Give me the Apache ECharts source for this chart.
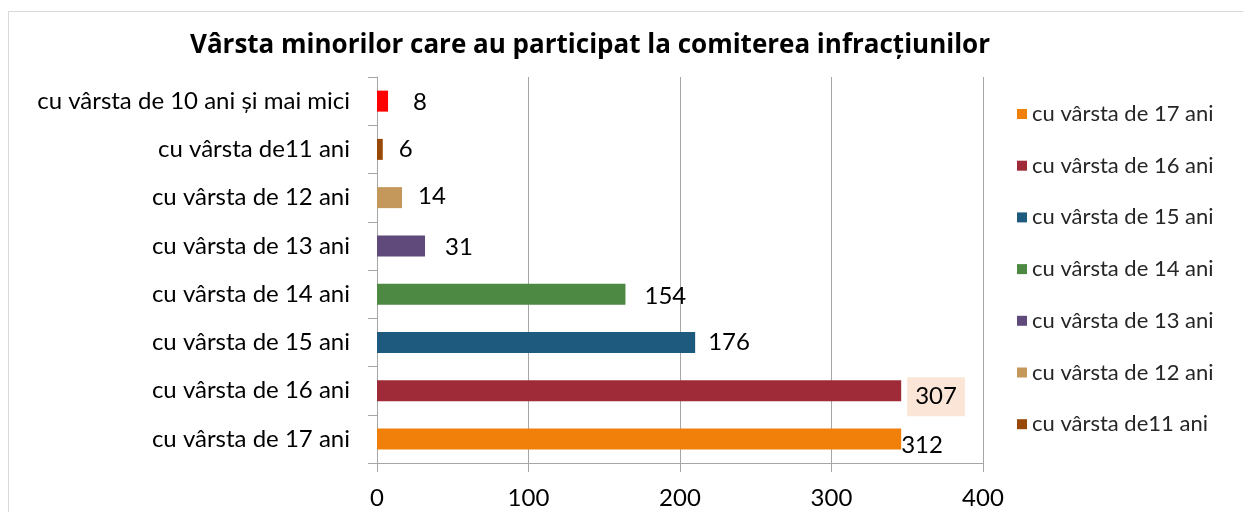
<!DOCTYPE html>
<html>
<head>
<meta charset="utf-8">
<title>Vârsta minorilor</title>
<script src="https://cdn.jsdelivr.net/npm/echarts@6/dist/echarts.min.js"></script>
<style>
  html, body { margin: 0; padding: 0; background: #fff; }
  #chart { width: 1243px; height: 512px; }
</style>
</head>
<body>
<div id="chart"></div>
<script>
// categories, top to bottom
var categories = ['cu vârsta de 10 ani și mai mici', 'cu vârsta de11 ani', 'cu vârsta de 12 ani',
    'cu vârsta de 13 ani', 'cu vârsta de 14 ani', 'cu vârsta de 15 ani',
    'cu vârsta de 16 ani', 'cu vârsta de 17 ani'];
// bar lengths as drawn against the axis
var barValues = [7.3, 3.8, 16.5, 31.7, 164, 210, 346, 346];
// numbers printed next to the bars
var labelValues = [8, 6, 14, 31, 154, 176, 307, 312];
var colors = ['#FF0000', '#984807', '#C4975B', '#604A7B', '#4E8943', '#1E5A7D', '#A02B38', '#F0800A'];
// legend lists only these (the last entry is cut off in the original)
var legendNames = ['cu vârsta de 17 ani', 'cu vârsta de 16 ani', 'cu vârsta de 15 ani',
    'cu vârsta de 14 ani', 'cu vârsta de 13 ani', 'cu vârsta de 12 ani', 'cu vârsta de11 ani'];
var xTicks = { min: 0, max: 400, interval: 100 };

var font = 'Lato, "Open Sans", sans-serif';
var dom = document.getElementById('chart');
var myChart = echarts.init(dom);

// label placement tweaks per bar
var labelDist = [25, 16, 16, 20, 19, 13, 15, 0];
var labelDy = [1, 0, -1, 1, 2, 0, 6, 6];

var series = [];
for (var i = 0; i < categories.length; i++) {
    var data = [];
    for (var j = 0; j < categories.length; j++) {
        data.push(j === i ? barValues[i] : '-');
    }
    var lbl = {
        show: true,
        position: 'right',
        distance: labelDist[i],
        offset: [0, labelDy[i]],
        color: '#000',
        fontSize: 24,
        fontFamily: font,
        formatter: (function (k) { return function () { return String(labelValues[k]); }; })(i)
    };
    if (i === 6) {
        lbl.backgroundColor = '#FBE5D6';
        lbl.padding = [8, 8, 7, 8];
        lbl.distance = 6;
    }
    series.push({
        name: categories[i],
        type: 'bar',
        stack: 'all',
        barWidth: 21,
        itemStyle: { color: colors[i] },
        label: lbl,
        data: data
    });
}

var option = {
    animation: false,
    color: colors,
    title: {
        text: 'Vârsta minorilor care au participat la comiterea infracțiunilor',
        left: 590,
        top: 33,
        padding: 0,
        textAlign: 'center',
        textStyle: { fontSize: 26, fontWeight: 'bold', fontFamily: '"Open Sans", sans-serif', color: '#000' }
    },
    graphic: [{
        type: 'rect',
        shape: { x: 8.5, y: 11.5, width: 1400, height: 700 },
        style: { fill: 'none', stroke: '#D9D9D9', lineWidth: 1 },
        silent: true
    }],
    legend: {
        orient: 'vertical',
        left: 1012,
        top: 98,
        data: legendNames,
        icon: 'rect',
        itemWidth: 10,
        itemHeight: 10,
        itemGap: 29.7,
        textStyle: { fontSize: 22, fontFamily: font, color: '#262626' }
    },
    grid: { left: 377, right: 260, top: 77, bottom: 49 },
    xAxis: {
        type: 'value',
        min: xTicks.min,
        max: xTicks.max,
        interval: xTicks.interval,
        axisLine: { show: true, lineStyle: { color: '#A6A6A6' } },
        axisTick: { show: true, length: 9, lineStyle: { color: '#A6A6A6' } },
        splitLine: { show: true, lineStyle: { color: '#A6A6A6' } },
        axisLabel: { fontSize: 24, fontFamily: font, color: '#000', margin: 23 }
    },
    yAxis: {
        type: 'category',
        inverse: true,
        data: categories,
        axisLine: { show: true, lineStyle: { color: '#A6A6A6' } },
        axisTick: { show: true, length: 9, lineStyle: { color: '#A6A6A6' } },
        axisLabel: { fontSize: 24, fontFamily: font, color: '#000', margin: 27 }
    },
    series: series
};

if (option && typeof option === 'object') {
    myChart.setOption(option);
}
</script>
</body>
</html>
